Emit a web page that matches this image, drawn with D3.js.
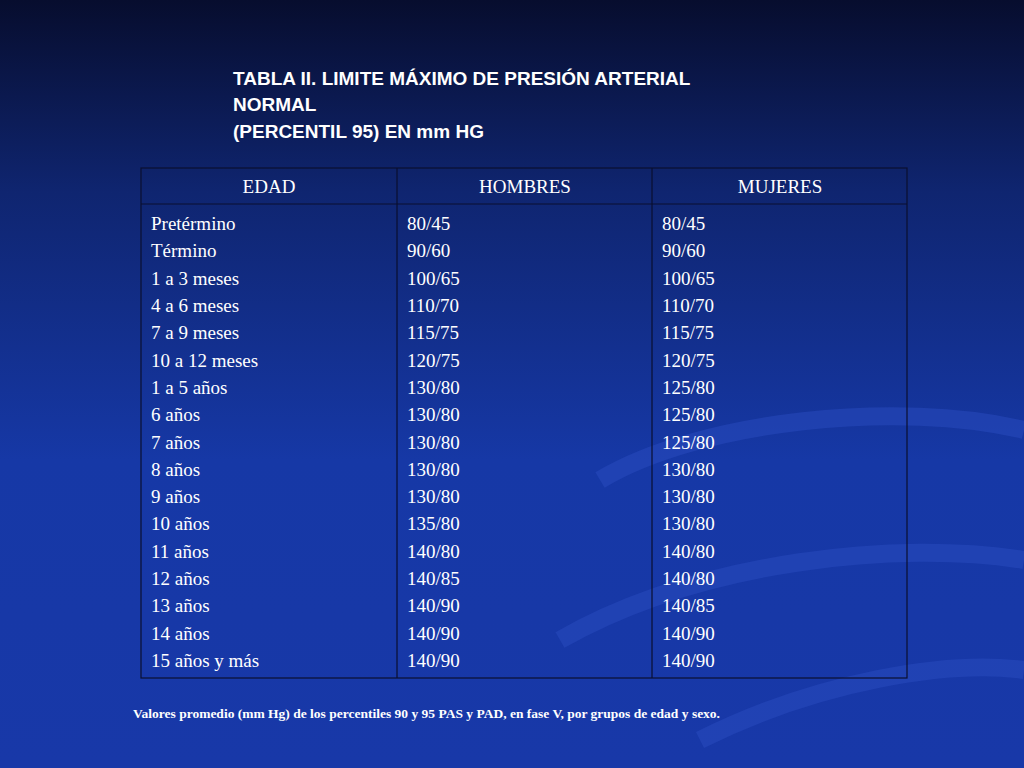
<!DOCTYPE html>
<html><head><meta charset="utf-8">
<script src="https://cdn.jsdelivr.net/npm/d3@7"></script>
<style>body{margin:0;overflow:hidden}</style></head>
<body><svg id="c" width="1024" height="768"></svg>
<script>
const titleLines=["TABLA II. LIMITE MÁXIMO DE PRESIÓN ARTERIAL","NORMAL","(PERCENTIL 95) EN mm HG"];
const headers=["EDAD","HOMBRES","MUJERES"];
const edad=["Pretérmino","Término","1 a 3 meses","4 a 6 meses","7 a 9 meses","10 a 12 meses","1 a 5 años","6 años","7 años","8 años","9 años","10 años","11 años","12 años","13 años","14 años","15 años y más"];
const hombres=["80/45","90/60","100/65","110/70","115/75","120/75","130/80","130/80","130/80","130/80","130/80","135/80","140/80","140/85","140/90","140/90","140/90"];
const mujeres=["80/45","90/60","100/65","110/70","115/75","120/75","125/80","125/80","125/80","130/80","130/80","130/80","140/80","140/80","140/85","140/90","140/90"];
const note="Valores promedio (mm Hg) de los percentiles 90 y 95 PAS y PAD, en fase V, por grupos de edad y sexo.";

const svg=d3.select("#c");
const defs=svg.append("defs");
const g=defs.append("linearGradient").attr("id","bg").attr("x1",0).attr("y1",0).attr("x2",0).attr("y2",1);
g.append("stop").attr("offset","0").attr("stop-color","#070d2e");
g.append("stop").attr("offset","0.25").attr("stop-color","#0f2570");
g.append("stop").attr("offset","0.6").attr("stop-color","#1638a6");
g.append("stop").attr("offset","1").attr("stop-color","#1838a8");
svg.append("rect").attr("width",1024).attr("height",768).attr("fill","url(#bg)");
const sw=svg.append("g").attr("fill","none").attr("stroke","#2a4cc0").attr("stroke-opacity",0.5).attr("stroke-width",18);
sw.append("path").attr("d","M600,480 C700,420 900,400 1024,430");
sw.append("path").attr("d","M560,640 C700,560 900,540 1024,560");
sw.append("path").attr("d","M700,740 C820,680 950,660 1024,670");

svg.selectAll("text.t").data(titleLines).join("text").attr("class","t")
 .attr("x",233).attr("y",(d,i)=>[85,111,138][i]).attr("fill","#fff")
 .attr("font-family","Liberation Sans, Arial").attr("font-weight","bold").attr("font-size",19).text(d=>d);

const cols=d3.scaleOrdinal().domain([0,1,2]).range([141,397,652]);
const tL=141,tR=907,tT=168,tH=204,tB=678;
const y=d3.scaleLinear().domain([0,16]).range([230,667]);
const ln=svg.append("g").attr("stroke","#0a0f30").attr("stroke-width",1.2);
ln.append("rect").attr("x",tL).attr("y",tT).attr("width",tR-tL).attr("height",tB-tT).attr("fill","none");
ln.append("line").attr("x1",tL).attr("x2",tR).attr("y1",tH).attr("y2",tH);
[397,652].forEach(x=>ln.append("line").attr("x1",x).attr("x2",x).attr("y1",tT).attr("y2",tB));
const font="Liberation Serif, Times New Roman";
svg.selectAll("text.h").data(headers).join("text").attr("class","h")
 .attr("x",(d,i)=>cols(i)+128).attr("y",193).attr("text-anchor","middle")
 .attr("fill","#fff").attr("font-family",font).attr("font-size",19).text(d=>d);
[edad,hombres,mujeres].forEach((arr,ci)=>{
 svg.append("g").selectAll("text").data(arr).join("text")
  .attr("x",cols(ci)+10).attr("y",(d,i)=>y(i)).attr("fill","#fff")
  .attr("font-family",font).attr("font-size",19).text(d=>d);
});
svg.append("text").attr("x",133).attr("y",718).attr("fill","#fff").attr("font-family",font)
 .attr("font-weight","bold").attr("font-size",13.5).text(note);
</script></body></html>
